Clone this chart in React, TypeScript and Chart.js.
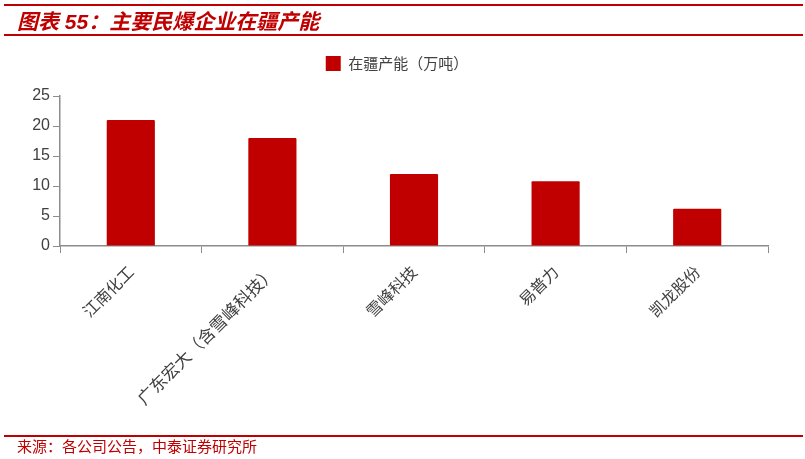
import React, { useEffect, useRef } from "react";
import { Chart, registerables } from "chart.js";

Chart.register(...registerables);

const categories = ["江南化工", "广东宏大（含雪峰科技）", "雪峰科技", "易普力", "凯龙股份"];
const capacity = [21, 18, 12, 10.8, 6.2];
const seriesLabel = "在疆产能（万吨）";
const yMin = 0;
const yMax = 25;
const yStep = 5;

const titleText = "图表 55：主要民爆企业在疆产能";
const sourceText = "来源：各公司公告，中泰证券研究所";

const RED = "#C00000";
const AXIS = "#8c8c8c";
const TEXT = "#404040";

export default function App() {
  const ref = useRef<HTMLCanvasElement | null>(null);

  useEffect(() => {
    if (!ref.current) return;
    const legendMargin = {
      id: "legendMargin",
      beforeInit(chart: any) {
        const orig = chart.legend.fit;
        chart.legend.fit = function () {
          orig.bind(chart.legend)();
          this.height += 15;
        };
      },
    };
    const chart = new Chart(ref.current, {
      type: "bar",
      data: {
        labels: categories,
        datasets: [
          {
            label: seriesLabel,
            data: capacity,
            backgroundColor: RED,
            borderRadius: 1,
            barPercentage: 0.34,
            categoryPercentage: 1,
          },
        ],
      },
      options: {
        responsive: false,
        animation: false,
        layout: { padding: { top: 46, left: 26, right: 37, bottom: 0 } },
        plugins: {
          legend: {
            position: "top",
            labels: {
              boxWidth: 15,
              boxHeight: 15,
              padding: 10,
              color: TEXT,
              font: { family: "'Noto Sans CJK SC'", size: 15 },
            },
          },
          tooltip: { enabled: false },
        },
        scales: {
          x: {
            grid: {
              display: true,
              drawOnChartArea: false,
              drawTicks: true,
              tickLength: 7,
              color: AXIS,
            },
            border: { display: true, color: AXIS, width: 1.5 },
            ticks: {
              autoSkip: false,
              maxRotation: 45,
              minRotation: 45,
              padding: 9,
              color: TEXT,
              font: (ctx: any) => ({
                family: "'Noto Sans CJK SC'",
                size: ctx.index === 1 ? 17 : 16,
              }),
            },
            afterFit: (s: any) => {
              s.height = 213;
            },
          },
          y: {
            min: yMin,
            max: yMax,
            ticks: {
              stepSize: yStep,
              padding: 3,
              color: TEXT,
              font: { family: "'Liberation Sans', Arial", size: 16 },
            },
            grid: {
              display: true,
              drawOnChartArea: false,
              drawTicks: true,
              tickLength: 7,
              color: AXIS,
            },
            border: { display: true, color: AXIS, width: 1.5 },
            afterFit: (s: any) => {
              s.width = 34;
            },
          },
        },
      },
      plugins: [legendMargin],
    });
    return () => chart.destroy();
  }, []);

  return (
    <div
      style={{
        position: "absolute",
        left: 0,
        top: 0,
        width: 805,
        height: 459,
        background: "#fff",
        overflow: "hidden",
      }}
    >
      <canvas ref={ref} width={805} height={459} style={{ position: "absolute", left: 0, top: 0, width: 805, height: 459 }} />
      <div style={{ position: "absolute", left: 4, right: 2, top: 4, height: 2, background: RED }} />
      <div
        style={{
          position: "absolute",
          left: 17,
          top: 8,
          fontFamily: "'Liberation Sans', 'Noto Sans CJK SC'",
          fontStyle: "italic",
          fontWeight: "bold",
          fontSize: 21,
          lineHeight: "27px",
          color: RED,
          whiteSpace: "nowrap",
        }}
      >
        {titleText}
      </div>
      <div style={{ position: "absolute", left: 4, right: 2, top: 34, height: 1.5, background: RED }} />
      <div style={{ position: "absolute", left: 4, right: 2, top: 435, height: 1.5, background: RED }} />
      <div
        style={{
          position: "absolute",
          left: 17,
          top: 436,
          fontFamily: "'Noto Sans CJK SC'",
          fontSize: 15,
          lineHeight: "20px",
          color: RED,
          whiteSpace: "nowrap",
        }}
      >
        {sourceText}
      </div>
    </div>
  );
}
